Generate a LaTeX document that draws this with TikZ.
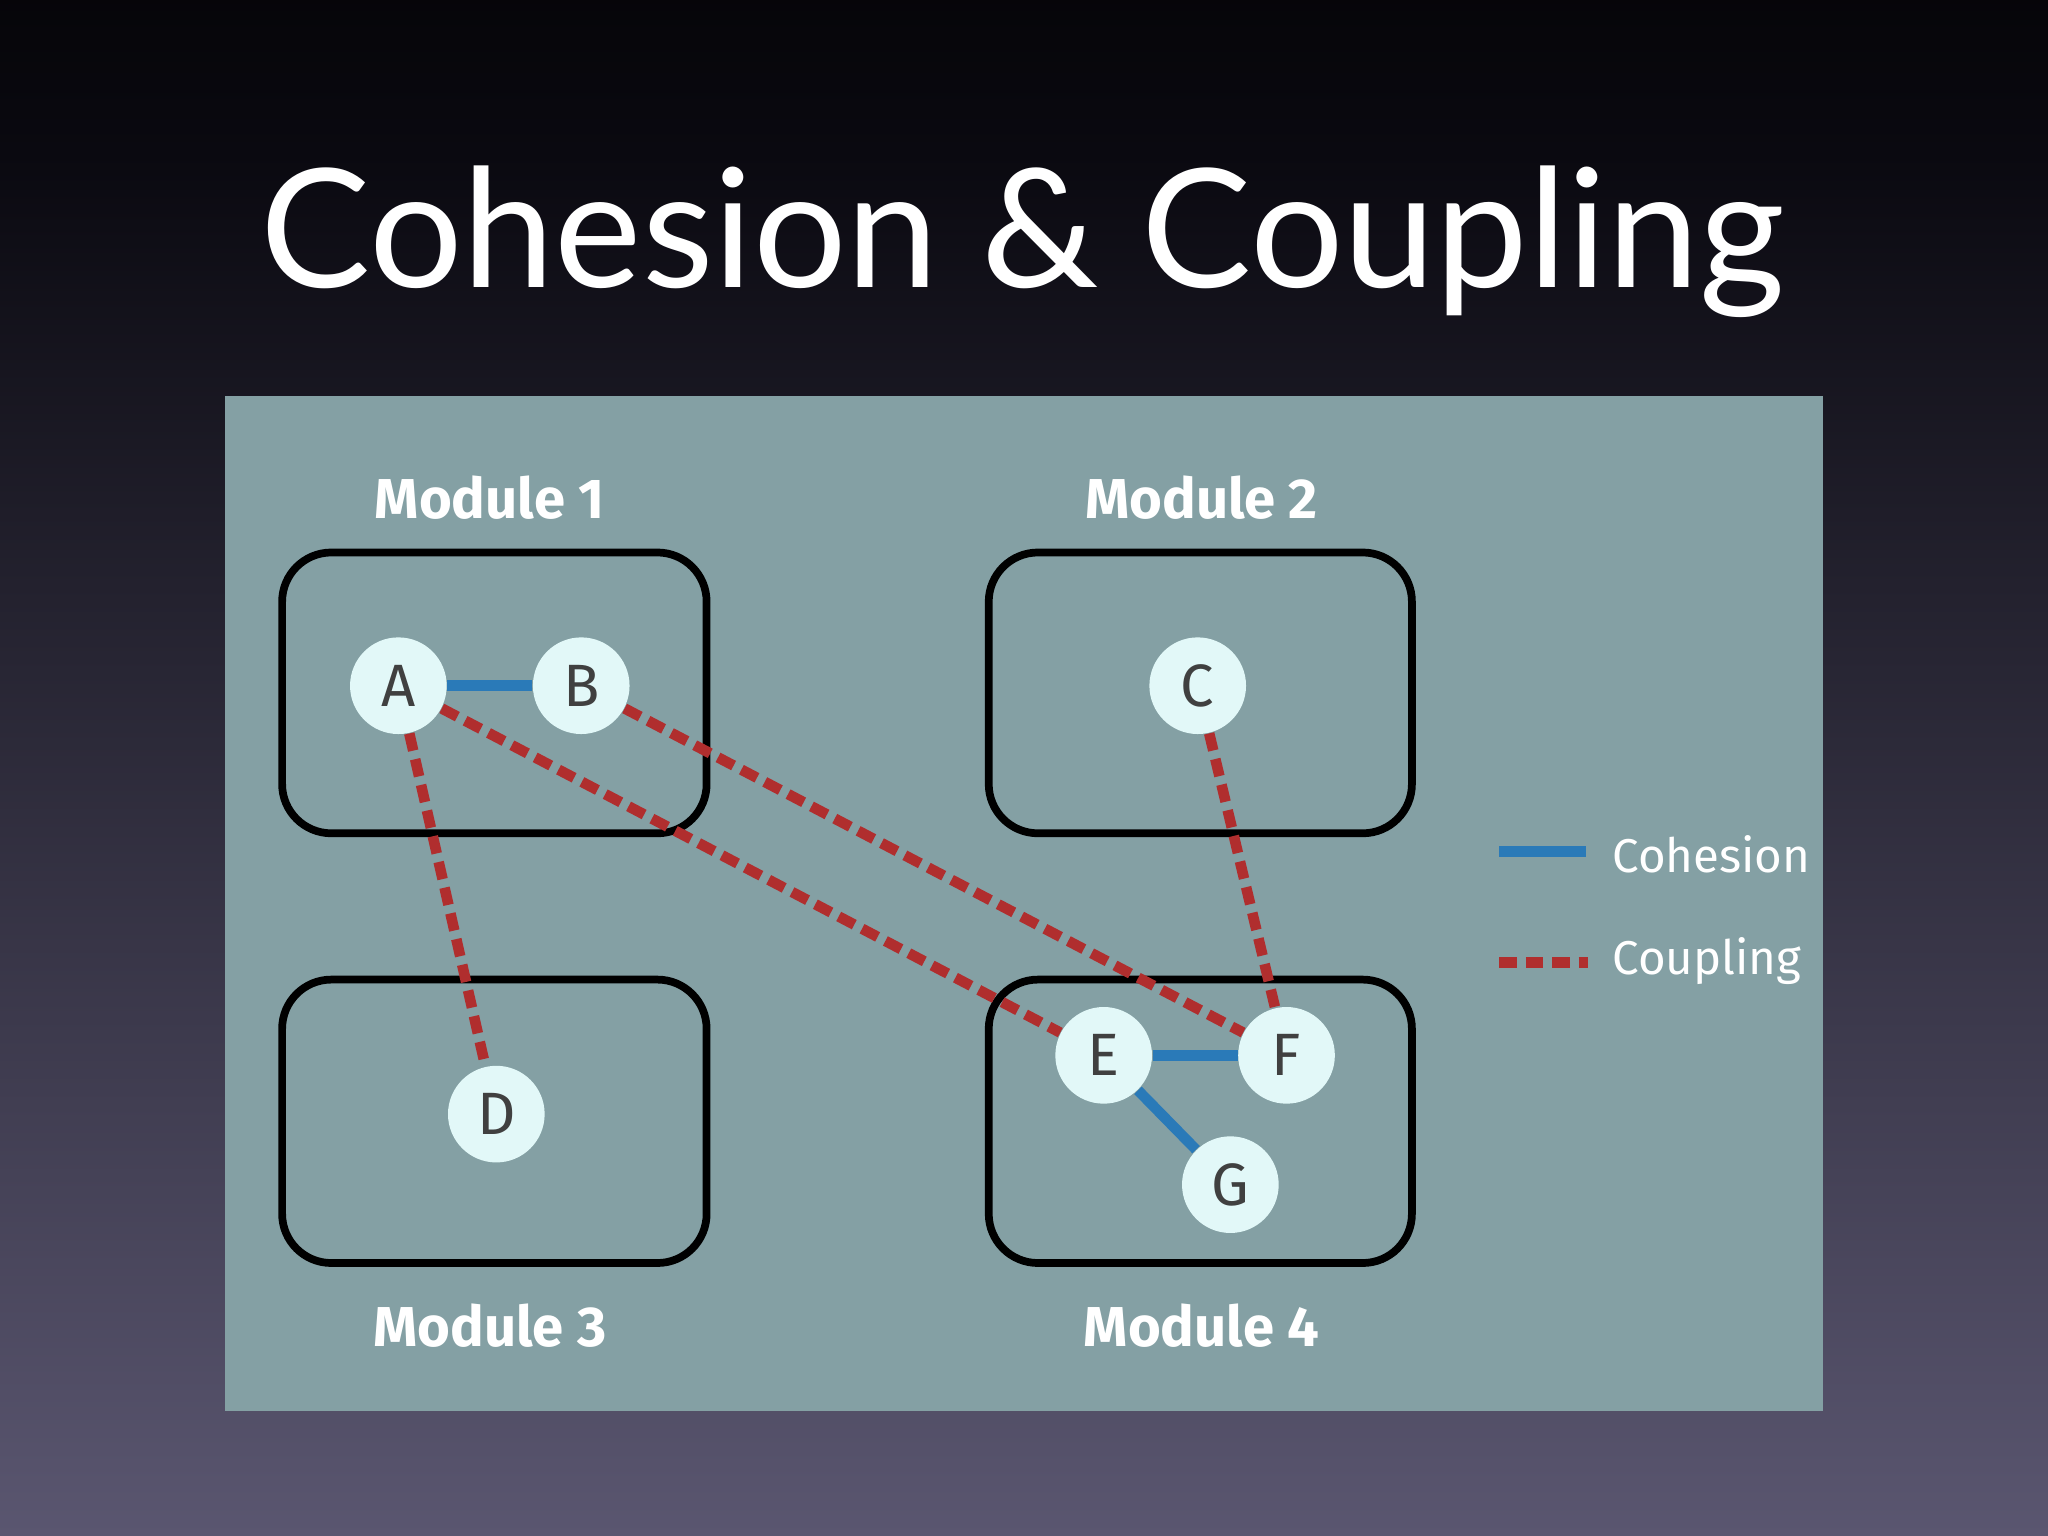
\documentclass[tikz,border=0pt]{standalone}
\usepackage{fontspec}
\setmainfont{Liberation Sans}
\newfontfamily\labfont{Fira Sans}
\newfontfamily\titlefont{Lato}
\definecolor{nodefill}{HTML}{E2F8F8}
\definecolor{cohblue}{HTML}{2A7AB8}
\definecolor{coupred}{HTML}{B02E2E}
\definecolor{panel}{HTML}{84A0A4}
\definecolor{bgbot}{HTML}{6E6A80}
\definecolor{bgmid}{HTML}{5A5670}
\definecolor{bgdark}{HTML}{0A0910}
\pgfdeclareverticalshading{bgshade}{100bp}{color(0bp)=(bgbot); color(25bp)=(bgmid); color(70bp)=(bgdark); color(82bp)=(black); color(100bp)=(black)}
\begin{document}
\begin{tikzpicture}[x=0.013061cm,y=-0.013061cm,
  modbox/.style={draw=black,line width=2.2pt,rounded corners=14pt},
  vert/.style={circle,fill=nodefill,minimum size=74*0.013061cm,inner sep=0pt,font=\labfont\fontsize{17}{17}\selectfont,text=black!75},
  coh/.style={draw=cohblue,line width=3pt},
  coup/.style={draw=coupred,line width=3pt,dash pattern=on 5pt off 2.5pt},
  modlab/.style={font=\labfont\bfseries\fontsize{16}{16}\selectfont,text=white},
  leglab/.style={font=\labfont\fontsize{13.5}{13.5}\selectfont,text=white,anchor=west}]
\useasboundingbox (0,0) rectangle (1568,1176);
\shade[shading=bgshade] (0,0) rectangle (1568,1176);
\node[font=\titlefont\fontsize{47}{47}\selectfont,text=white] (title) at (783,185) {Cohesion \& Coupling};
\fill[panel] (172,303) rectangle (1396,1080);
\node[modbox,minimum width=325*0.013061cm,minimum height=215*0.013061cm] (m1) at (378.5,530.5) {};
\node[modbox,minimum width=324*0.013061cm,minimum height=215*0.013061cm] (m2) at (919,530.5) {};
\node[modbox,minimum width=325*0.013061cm,minimum height=217*0.013061cm] (m3) at (378.5,858.5) {};
\node[modbox,minimum width=324*0.013061cm,minimum height=217*0.013061cm] (m4) at (919,858.5) {};
\node[modlab] (l1) at (375,381) {Module 1};
\node[modlab] (l2) at (920,381) {Module 2};
\node[modlab] (l3) at (375,1015) {Module 3};
\node[modlab] (l4) at (920,1015) {Module 4};
\node[vert] (A) at (305,525) {A};
\node[vert] (B) at (445,525) {B};
\node[vert] (C) at (917,525) {C};
\node[vert] (D) at (380,853) {D};
\node[vert] (E) at (845,808) {E};
\node[vert] (F) at (985,808) {F};
\node[vert] (G) at (942,907) {G};
\draw[coh] (A) -- (B);
\draw[coh] (E) -- (F);
\draw[coh] (E) -- (G);
\draw[coup] (A) -- (D);
\draw[coup] (A) -- (E);
\draw[coup] (B) -- (F);
\draw[coup] (C) -- (F);
\coordinate (c1) at (1148,652); \coordinate (c2) at (1214,652);
\coordinate (d1) at (1148,737); \coordinate (d2) at (1216,737);
\draw[coh] (c1) -- (c2);
\draw[coup] (d1) -- (d2);
\node[leglab] (lc) at (1225,654) {Cohesion};
\node[leglab] (lp) at (1225,736) {Coupling};
\end{tikzpicture}
\end{document}
